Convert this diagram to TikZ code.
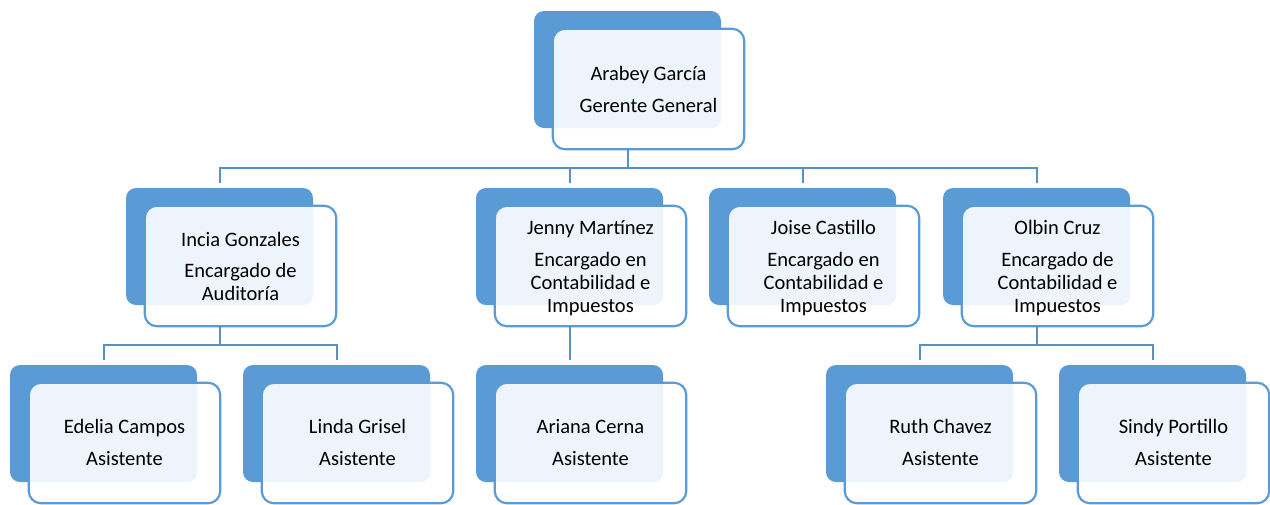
\documentclass[tikz,border=0pt]{standalone}
\usepackage{fontspec}
\setmainfont{Carlito}
\definecolor{accblue}{HTML}{5B9BD5}
\definecolor{lineblue}{HTML}{5590CC}
\definecolor{lightfill}{HTML}{EEF4FB}
\tikzset{
  backbox/.style={rectangle, minimum width=187pt, minimum height=117pt, inner sep=0pt, fill=accblue, rounded corners=10pt},
  frontbox/.style={rectangle, minimum width=191pt, minimum height=120pt, inner sep=0pt, fill=white, rounded corners=12pt},
  frontborder/.style={draw=accblue, line width=2.2pt, rounded corners=12pt},
  conn/.style={draw=lineblue, line width=2pt, shorten >=5pt},
  txt/.style={inner sep=0pt, anchor=base, font=\fontsize{20.5}{23}\selectfont}
}
\newcommand{\orgbox}[3]{%
  \node[backbox] (b#1) at (#2+93.5, #3+58.5) {};
  \node[frontbox] (f#1) at (#2+114.5, #3+78) {};
  \begin{scope}
    \clip[rounded corners=12pt] (f#1.north west) rectangle (f#1.south east);
    \fill[lightfill, rounded corners=10pt] (b#1.north west) rectangle (b#1.south east);
  \end{scope}
  \draw[frontborder] (f#1.north west) rectangle (f#1.south east);
}
\newcommand{\orgtext}[4]{%
  \node[txt] (t#1) at (#2+114.5, #3) {\renewcommand{\arraystretch}{1}\begin{tabular}[t]{@{}c@{}}#4\end{tabular}};
}
\begin{document}
\begin{tikzpicture}[x=1pt, y=-1pt]
\useasboundingbox (0,0) rectangle (1270,504);
% boxes
\orgbox{1}{534}{11}
\orgbox{2}{126}{188}
\orgbox{3}{476}{188}
\orgbox{4}{709}{188}
\orgbox{5}{943}{188}
\orgbox{6}{10}{365}
\orgbox{7}{243}{365}
\orgbox{8}{476}{365}
\orgbox{9}{826}{365}
\orgbox{10}{1059}{365}
% connectors
\foreach \c in {2,3,4,5}{
  \draw[conn] (b1 |- f1.south) -- ++(0,19) -| (b\c.north);
}
\foreach \c in {6,7}{
  \draw[conn] (b2 |- f2.south) -- ++(0,19) -| (b\c.north);
}
\draw[conn] (b3 |- f3.south) -- (b8.north);
\foreach \c in {9,10}{
  \draw[conn] (b5 |- f5.south) -- ++(0,19) -| (b\c.north);
}
% texts
\orgtext{1}{534}{80}{Arabey García\\[9pt]Gerente General}
\orgtext{2}{126}{246}{Incia Gonzales\\[8pt]Encargado de\\Auditoría}
\orgtext{3}{476}{234}{Jenny Martínez\\[9pt]Encargado en\\Contabilidad e\\Impuestos}
\orgtext{4}{709}{234}{Joise Castillo\\[9pt]Encargado en\\Contabilidad e\\Impuestos}
\orgtext{5}{943}{234}{Olbin Cruz\\[9pt]Encargado de\\Contabilidad e\\Impuestos}
\orgtext{6}{10}{433}{Edelia Campos\\[9pt]Asistente}
\orgtext{7}{243}{433}{Linda Grisel\\[9pt]Asistente}
\orgtext{8}{476}{433}{Ariana Cerna\\[9pt]Asistente}
\orgtext{9}{826}{433}{Ruth Chavez\\[9pt]Asistente}
\orgtext{10}{1059}{433}{Sindy Portillo\\[9pt]Asistente}
\end{tikzpicture}
\end{document}
